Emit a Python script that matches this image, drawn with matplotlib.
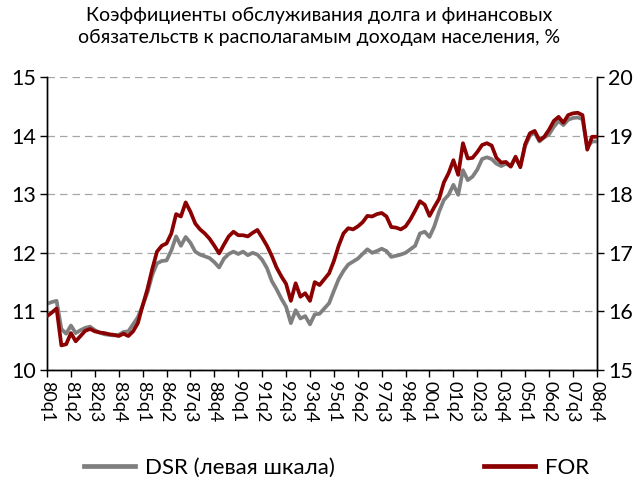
import matplotlib
matplotlib.use("Agg")
import matplotlib.pyplot as plt
from matplotlib.lines import Line2D

# quarters 1980q1 .. 2008q4
quarters = [f"{y % 100:02d}q{q}" for y in range(1980, 2009) for q in range(1, 5)]

# DSR, % (left axis)
dsr = [11.13, 11.16, 11.18, 10.70, 10.62, 10.76, 10.63, 10.68, 10.72, 10.74,
       10.68, 10.64, 10.61, 10.60, 10.59, 10.60, 10.65, 10.66, 10.78, 10.90,
       11.10, 11.32, 11.62, 11.82, 11.86, 11.87, 12.04, 12.28, 12.12, 12.27,
       12.17, 12.02, 11.97, 11.94, 11.91, 11.84, 11.75, 11.90, 11.98, 12.02,
       11.98, 12.02, 11.96, 12.00, 11.97, 11.88, 11.74, 11.52, 11.38, 11.22,
       11.08, 10.80, 11.02, 10.88, 10.92, 10.78, 10.95, 10.96, 11.05, 11.14,
       11.35, 11.55, 11.69, 11.80, 11.85, 11.90, 11.98, 12.06, 12.00, 12.03,
       12.07, 12.03, 11.93, 11.95, 11.97, 12.00, 12.06, 12.12, 12.33, 12.36,
       12.27, 12.45, 12.70, 12.90, 12.99, 13.16, 12.99, 13.41, 13.24, 13.30,
       13.42, 13.60, 13.63, 13.60, 13.52, 13.48, 13.52, 13.48, 13.62, 13.48,
       13.82, 14.00, 14.05, 13.90, 13.97, 14.02, 14.15, 14.25, 14.18, 14.27,
       14.30, 14.31, 14.28, 13.80, 13.90, 13.90]

# FOR, % (right axis)
for_ratio = [15.92, 15.98, 16.05, 15.42, 15.44, 15.63, 15.49, 15.58, 15.67, 15.70,
             15.66, 15.64, 15.63, 15.61, 15.60, 15.58, 15.62, 15.58, 15.66, 15.80,
             16.10, 16.38, 16.72, 17.02, 17.12, 17.16, 17.33, 17.66, 17.62, 17.86,
             17.70, 17.50, 17.40, 17.33, 17.24, 17.12, 16.99, 17.14, 17.28, 17.36,
             17.30, 17.30, 17.28, 17.34, 17.39, 17.26, 17.12, 16.95, 16.75, 16.60,
             16.47, 16.18, 16.48, 16.25, 16.31, 16.18, 16.50, 16.45, 16.55, 16.65,
             16.86, 17.12, 17.33, 17.42, 17.40, 17.45, 17.52, 17.63, 17.62, 17.66,
             17.68, 17.62, 17.44, 17.43, 17.40, 17.45, 17.57, 17.72, 17.88, 17.82,
             17.63, 17.78, 17.92, 18.20, 18.36, 18.58, 18.33, 18.87, 18.61, 18.62,
             18.72, 18.84, 18.87, 18.83, 18.62, 18.54, 18.55, 18.47, 18.64, 18.46,
             18.85, 19.04, 19.08, 18.92, 18.98, 19.10, 19.25, 19.32, 19.22, 19.35,
             19.38, 19.39, 19.35, 18.76, 18.98, 18.98]

title = ("Коэффициенты обслуживания долга и финансовых\n"
         "обязательств к располагамым доходам населения, %")

plt.rcParams['font.family'] = ['Lato', 'DejaVu Sans']

gray = '#7f7f7f'
red = '#8b0000'

fig = plt.figure(figsize=(6.39, 4.87), dpi=100)
ax = fig.add_axes([0.0736, 0.2402, 0.8604, 0.6017])
ax2 = ax.twinx()

x = list(range(len(quarters)))
ax.plot(x, dsr, color=gray, lw=2.7, solid_joinstyle='round', zorder=3)
ax2.plot(x, for_ratio, color=red, lw=2.7, solid_joinstyle='round', zorder=3)

ax.set_xlim(0, len(quarters) - 1)
ax.set_ylim(10, 15)
ax2.set_ylim(15, 20)
ax.set_yticks(range(10, 16))
ax2.set_yticks(range(15, 21))

ax.grid(axis='y', linestyle=(0, (6, 4)), color='#a6a6a6', lw=0.9)
ax.set_axisbelow(True)

ticks = x[::5]
ax.set_xticks(ticks)
ax.set_xticklabels([quarters[i] for i in ticks], rotation=270, fontsize=13)

for a in (ax, ax2):
    a.spines['top'].set_visible(False)
    for s in ('left', 'right', 'bottom'):
        a.spines[s].set_linewidth(1.0)
    a.tick_params(axis='y', labelsize=15.5, length=5, width=1, pad=3)
ax.tick_params(axis='x', length=5, width=1, pad=3)

fig.text(0.5, 0.985, title, ha='center', va='top', fontsize=14, linespacing=1.3)

handles = [Line2D([], [], color=gray, lw=3.4), Line2D([], [], color=red, lw=3.4)]
fig.legend(handles, ['DSR (левая шкала)', 'FOR'], loc='lower center',
           bbox_to_anchor=(0.527, -0.022), ncol=2, frameon=False, fontsize=16,
           handlelength=2.3, columnspacing=6.7, handletextpad=0.45)

fig.savefig('out.png', dpi=100)
